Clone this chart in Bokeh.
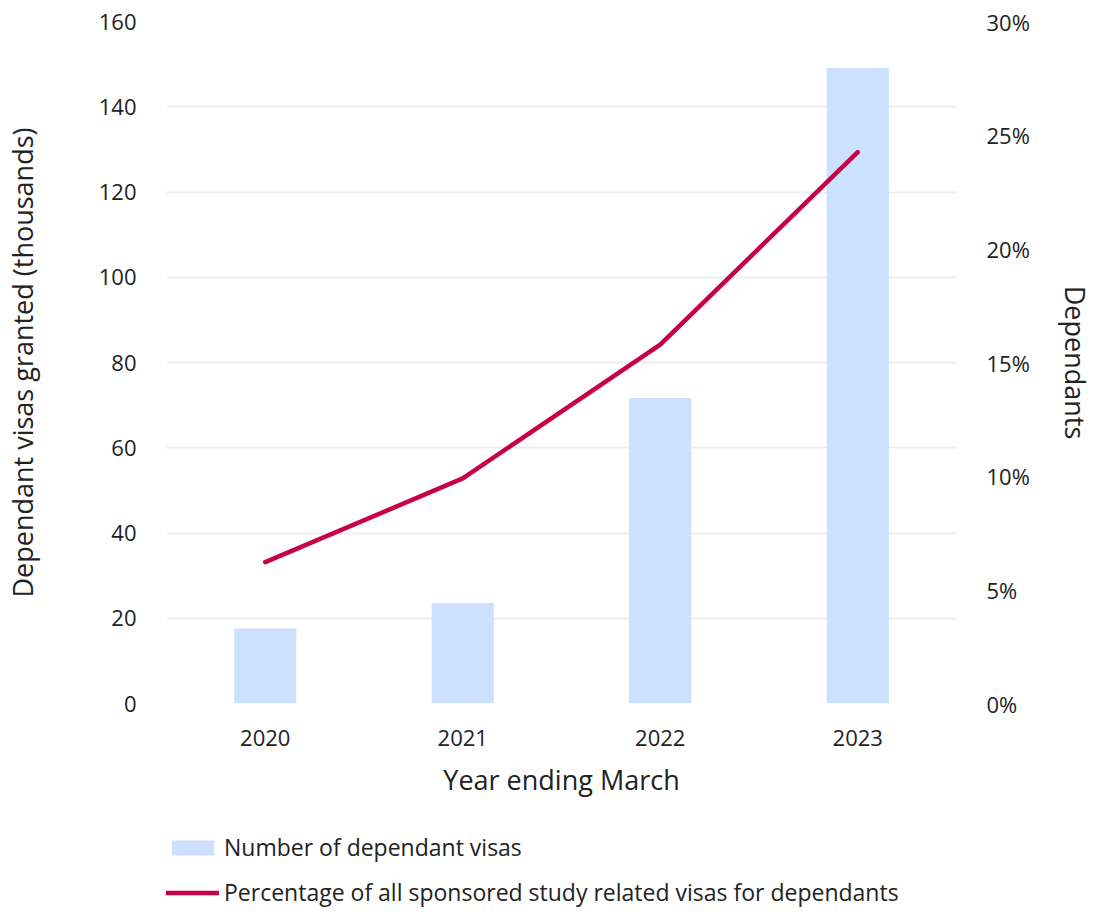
from bokeh.plotting import figure
from bokeh.layouts import column
from bokeh.models import (Range1d, LinearAxis, FactorRange, FixedTicker,
                          NumeralTickFormatter, Legend, LegendItem, ColumnDataSource)
from bokeh.embed import file_html
from bokeh.resources import INLINE

years = ["2020", "2021", "2022", "2023"]
dependant_visas = [17.6, 23.6, 71.7, 149.1]          # thousands
pct_dependants = [0.0622, 0.0990, 0.1579, 0.2425]     # share of sponsored study visas

left_ticks = [0, 20, 40, 60, 80, 100, 120, 140, 160]
right_ticks = [0.0, 0.05, 0.10, 0.15, 0.20, 0.25, 0.30]

label_bars = "Number of dependant visas"
label_line = "Percentage of all sponsored study related visas for dependants"

FONT = "Open Sans"
TXT = "#222222"
BAR_COLOR = "#cce0ff"
LINE_COLOR = "#c8004a"

src = ColumnDataSource(dict(year=years, visas=dependant_visas, pct=pct_dependants))

p = figure(x_range=FactorRange(*years), y_range=Range1d(0, 160),
           frame_width=790, frame_height=682,
           output_backend="svg", toolbar_location=None,
           min_border_left=159, min_border_right=125, min_border_top=21,
           min_border_bottom=100)
p.outline_line_color = None
p.background_fill_color = "white"
p.border_fill_color = "white"

p.extra_y_ranges = {"pct": Range1d(0, 0.30)}

bars = p.vbar(x="year", top="visas", width=0.315, source=src,
              fill_color=BAR_COLOR, line_color=None)
line = p.line(x="year", y="pct", source=src, y_range_name="pct",
              line_color=LINE_COLOR, line_width=4.5, line_cap="round", line_join="round")

# grid
p.xgrid.grid_line_color = None
p.ygrid.grid_line_color = "#eeeeee"
p.ygrid.grid_line_width = 2
p.ygrid.ticker = FixedTicker(ticks=left_ticks)

# left axis
ax = p.yaxis[0]
ax.ticker = FixedTicker(ticks=left_ticks)
ax.axis_label = "Dependant visas granted (thousands)"

# right axis
rax = LinearAxis(y_range_name="pct", ticker=FixedTicker(ticks=right_ticks),
                 formatter=NumeralTickFormatter(format="0%"),
                 axis_label="Dependants")
p.add_layout(rax, "right")

xax = p.xaxis[0]
xax.axis_label = "Year ending March"

for a in [ax, rax, xax]:
    a.axis_line_color = None
    a.major_tick_line_color = None
    a.minor_tick_line_color = None
    a.major_label_text_font = FONT
    a.major_label_text_font_size = "22px"
    a.major_label_text_color = TXT
    a.axis_label_text_font = FONT
    a.axis_label_text_font_size = "27px"
    a.axis_label_text_font_style = "normal"
    a.axis_label_text_color = TXT

ax.major_label_standoff = 24
ax.axis_label_standoff = 55
rax.major_label_standoff = 24
rax.axis_label_standoff = 24
xax.major_label_standoff = 20
xax.axis_label_standoff = 12

# legend strip below the chart (its renderers reuse the data but sit out of view)
lf = figure(x_range=FactorRange(*years), y_range=Range1d(1000, 1001),
            width=1078, height=106, x_axis_location=None, y_axis_location=None,
            output_backend="svg", toolbar_location=None,
            min_border_left=0, min_border_right=0, min_border_top=0, min_border_bottom=0)
lf.outline_line_color = None
lf.grid.visible = False
lb = lf.vbar(x="year", top="visas", width=0.315, source=src,
             fill_color=BAR_COLOR, line_color=None)
ll = lf.line(x="year", y="pct", source=src,
             line_color=LINE_COLOR, line_width=4.5, line_cap="round")

legend = Legend(items=[LegendItem(label=label_bars, renderers=[lb]),
                       LegendItem(label=label_line, renderers=[ll])],
                location=(0, 1), orientation="vertical")
legend.border_line_color = None
legend.background_fill_alpha = 0
legend.padding = 0
legend.margin = 0
legend.spacing = 13
legend.glyph_width = 53
legend.glyph_height = 19
legend.label_standoff = 5
legend.label_text_font = FONT
legend.label_text_font_size = "23px"
legend.label_text_color = TXT
lf.add_layout(legend, "center")

layout = column(p, lf, spacing=0)
open("out.html", "w").write(file_html(layout, INLINE))
